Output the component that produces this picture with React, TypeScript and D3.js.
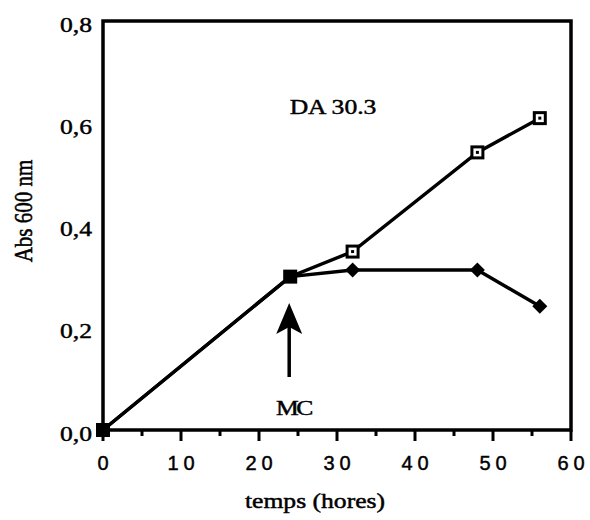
import React from "react";
import * as d3 from "d3";

const hours = [0, 24, 32, 48, 56];
const seriesOpen = [0.0, 0.30, 0.349, 0.543, 0.61];
const seriesFilled = [0.0, 0.30, 0.313, 0.313, 0.242];
const xTicks = [0, 10, 20, 30, 40, 50, 60];
const xMinor = [5, 15, 25, 35, 45, 55];
const yTicks = [0, 0.2, 0.4, 0.6, 0.8];
const title = "DA 30.3";
const arrowLabel = "MC";
const arrowAt = 24;
const xTitle = "temps (hores)";
const yTitle = "Abs 600 nm";

export default function App() {
  const W = 590, H = 520;
  const x = d3.scaleLinear().domain([0, 60]).range([103, 571]);
  const y = d3.scaleLinear().domain([0, 0.8]).range([430, 21]);
  const line = d3.line<[number, number]>().x(d => x(d[0])).y(d => y(d[1]));
  const openPts: [number, number][] = hours.map((h, i) => [h, seriesOpen[i]]);
  const filledPts: [number, number][] = hours.map((h, i) => [h, seriesFilled[i]]);
  const serif = "'Liberation Serif', 'Times New Roman', serif";
  const sans = "'Liberation Sans', Arial, sans-serif";
  const ax = x(arrowAt) - 1;
  const sx = 1.22;
  const ts = { stroke: "#000", strokeWidth: 0.45 };
  return (
    <svg width={W} height={H} style={{ position: "absolute", left: 0, top: 0, background: "#fff" }}>
      <rect x={0} y={0} width={W} height={H} fill="#fff" />
      <rect x={x(0)} y={y(0.8)} width={x(60) - x(0)} height={y(0) - y(0.8)} fill="none" stroke="#000" strokeWidth={3.5} />
      {xTicks.map(t => (
        <g key={"xt" + t}>
          <line x1={x(t)} x2={x(t)} y1={y(0)} y2={y(0) + 11} stroke="#000" strokeWidth={3} />
          <text x={x(t) + 2.5} y={470} textAnchor="middle" fontFamily={sans} fontSize={20} letterSpacing={5} fill="#000" {...ts}>{t}</text>
        </g>
      ))}
      {xMinor.map(t => (
        <line key={"xm" + t} x1={x(t)} x2={x(t)} y1={y(0)} y2={y(0) + 6} stroke="#000" strokeWidth={3} />
      ))}
      {yTicks.map(t => (
        <text key={"yt" + t} transform={`translate(92,${y(t) + 10.5}) scale(${sx},1)`} textAnchor="end" fontFamily={serif} fontSize={21} fill="#000" {...ts}>
          {t.toFixed(1).replace(".", ",")}
        </text>
      ))}
      <text transform={`translate(315,508) scale(${sx},1)`} textAnchor="middle" fontFamily={serif} fontSize={21} fill="#000" {...ts}>{xTitle}</text>
      <text transform={`translate(32,211) scale(${sx},1) rotate(-90)`} textAnchor="middle" fontFamily={serif} fontSize={21} fill="#000" {...ts}>{yTitle}</text>
      <text transform={`translate(333,114) scale(${sx},1)`} textAnchor="middle" fontFamily={serif} fontSize={21} fill="#000" {...ts}>{title}</text>

      <path d={line(openPts) || ""} fill="none" stroke="#000" strokeWidth={3.4} />
      <path d={line(filledPts) || ""} fill="none" stroke="#000" strokeWidth={3.4} />

      {filledPts.map((p, i) => {
        const cx = x(p[0]), cy = y(p[1]);
        if (seriesOpen[i] === p[1]) return null;
        return <path key={"fd" + i} d={`M${cx},${cy - 7.5}L${cx + 7.5},${cy}L${cx},${cy + 7.5}L${cx - 7.5},${cy}Z`} fill="#000" />;
      })}
      {openPts.map((p, i) => {
        const cx = x(p[0]), cy = y(p[1]);
        const shared = seriesFilled[i] === p[1];
        return shared ? (
          <rect key={"os" + i} x={cx - 7} y={cy - 7} width={14} height={14} fill="#000" />
        ) : (
          <g key={"os" + i}>
            <rect x={cx - 5.5} y={cy - 5.5} width={11} height={11} fill="#fff" stroke="#000" strokeWidth={3} />
            <rect x={cx - 1.5} y={cy - 1.5} width={3} height={3} fill="#000" />
          </g>
        );
      })}

      <line x1={ax} x2={ax} y1={377} y2={325} stroke="#000" strokeWidth={3.5} />
      <path d={`M${ax},${303}L${ax + 13},${334}L${ax},${327}L${ax - 13},${334}Z`} fill="#000" />
      <text transform={`translate(293.5,415) scale(${sx},1)`} textAnchor="middle" fontFamily={serif} fontSize={21} letterSpacing={-2} fill="#000" {...ts}>{arrowLabel}</text>
    </svg>
  );
}
